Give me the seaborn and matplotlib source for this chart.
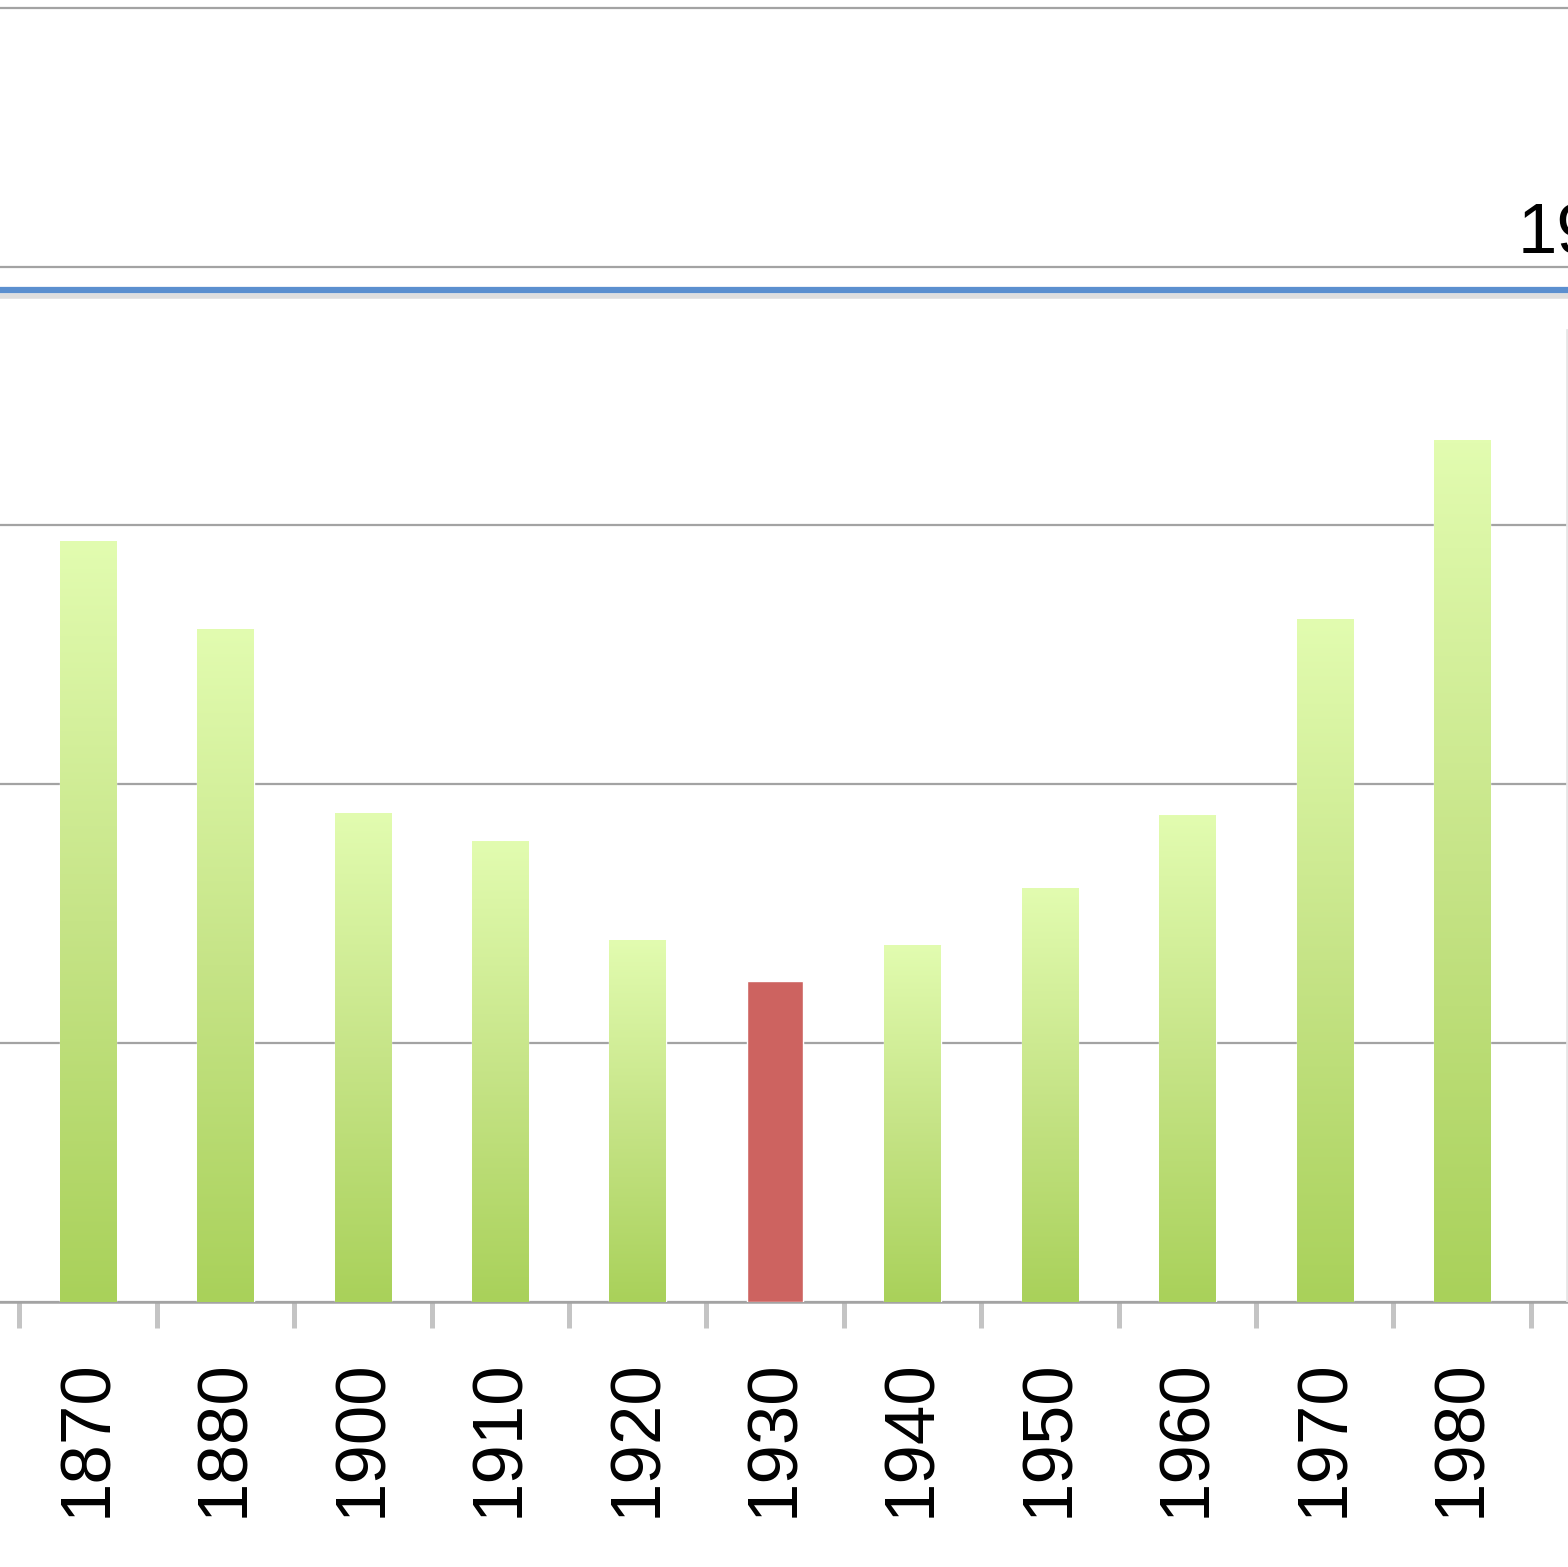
import matplotlib
matplotlib.use('Agg')
import matplotlib.pyplot as plt
import numpy as np
import seaborn as sns
from matplotlib.colors import LinearSegmentedColormap

years = ['1870', '1880', '1900', '1910', '1920', '1930', '1940', '1950', '1960', '1970', '1980', '1990']
values = [29.4, 26.0, 18.9, 17.8, 14.0, 12.4, 13.8, 16.0, 18.8, 26.4, 33.3, 37.4]
bar_colors = ['#c4e27f'] * 5 + ['#cd6360'] + ['#c4e27f'] * 5 + ['#ffffff']
highlight = '1930'
ref_level = 39.1
ref_label = '19'

sns.set_theme(style='white')
plt.rcParams['font.family'] = ['Liberation Sans', 'DejaVu Sans']

fig = plt.figure(figsize=(15.68, 15.67), dpi=100)
ax = fig.add_axes([0, 1 - 1302 / 1567, 1, 1302 / 1567])

sns.barplot(x=years, y=values, hue=years, palette=bar_colors, legend=False,
            width=0.41, saturation=1, ax=ax, zorder=3)

# gradient fill for the green bars
green = LinearSegmentedColormap.from_list('g', ['#a9d15a', '#c6e487', '#e2fcb0'])
grad = np.linspace(0, 1, 256).reshape(-1, 1)
for patch, year in zip(ax.patches, years):
    if year == highlight:
        continue
    if year == years[-1]:
        patch.set_edgecolor('#e6e6e6')
        patch.set_linewidth(7)
        continue
    x0, w, h = patch.get_x(), patch.get_width(), patch.get_height()
    im = ax.imshow(grad, extent=[x0, x0 + w, 0, h], origin='lower', aspect='auto',
                   cmap=green, zorder=4)
    im.set_clip_path(patch)

ax.set_yticks([0, 10, 20, 30, 40, 50])
ax.yaxis.grid(True, color='#a3a3a3', linewidth=1.6, zorder=0)
ax.set_axisbelow(True)
ax.tick_params(axis='y', left=False, labelleft=False)

ax.axhline(ref_level - 0.25, color='#dedede', linewidth=4, zorder=2)
ax.axhline(ref_level, color='#5b8fcf', linewidth=4.5, zorder=5)
ax.text(10.40, 40.5, ref_label, fontsize=51, color='black', va='baseline', ha='left',
        clip_on=False)

for side in ['left', 'right', 'top']:
    ax.spines[side].set_visible(False)
ax.spines['bottom'].set_color('#a3a3a3')
ax.spines['bottom'].set_linewidth(1.8)

ax.set_xticks(np.arange(len(years)))
ax.set_xticklabels(years, rotation=90, fontsize=51, color='black')
ax.tick_params(axis='x', which='major', length=0, pad=41)
ax.set_xticks(np.arange(len(years)) - 0.5, minor=True)
ax.tick_params(axis='x', which='minor', length=19, width=3.6, color='#c4c4c4', bottom=True)
ax.set_xlabel('')
ax.set_ylabel('')

ax.set_xlim(-0.64, 10.77)
ax.set_ylim(0, 50.3)

fig.savefig('out.png', dpi=100)
